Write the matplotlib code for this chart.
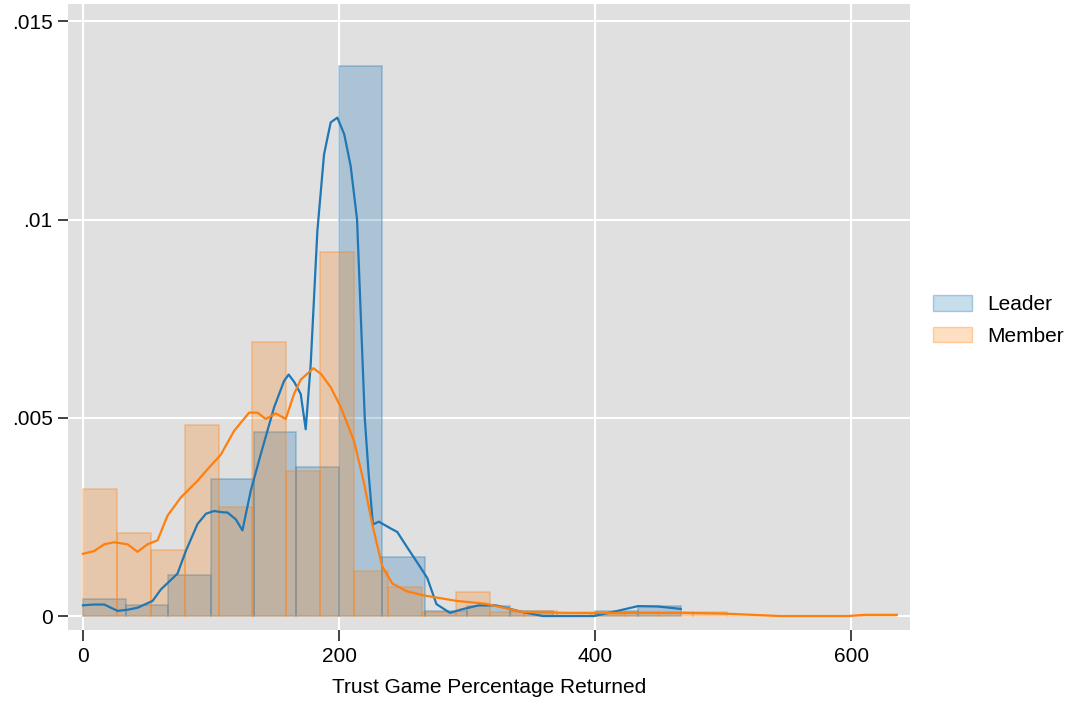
import numpy as np
import matplotlib
matplotlib.use("Agg")
import matplotlib.pyplot as plt
from matplotlib.patches import Patch

plt.rcParams['font.family'] = ['Liberation Sans', 'DejaVu Sans']

# histogram bins (left edges start at 0)
leader_bin_w = 466.7 / 14
leader_hist = [0.00042, 0.00027, 0.00103, 0.00345, 0.00465, 0.00375, 0.01387,
               0.00149, 0.00012, 0.00025, 0.00013, 0.0, 0.00013, 0.00025]

member_bin_w = 635.0 / 24
member_hist = [0.0032, 0.0021, 0.00166, 0.00482, 0.00275, 0.0069, 0.00366,
               0.00919, 0.00113, 0.00074, 0.00009, 0.00061, 0.00009, 0.00012,
               0.00008, 0.00005, 0.0001, 0.0001, 0.0001, 0.0, 0.0, 0.0, 0.0,
               0.00003]

# kernel density curves
leader_kde_x = [0, 8, 16.6, 27, 35, 42.6, 54.3, 60.8, 73.8, 80.3, 89.4, 96,
                102.4, 108, 112.8, 119.3, 124.5, 131, 138.8, 149.2, 157,
                160.6, 165, 170, 173.9, 177.8, 183, 188.2, 193.4, 198.6, 204,
                209, 214, 220, 223, 226.4, 231, 240.2, 245.4, 253.2, 261,
                268.8, 276, 286.6, 295.9, 309, 322.3, 343.4, 359.2, 398.9,
                417.4, 433.2, 449.1, 466.7]
leader_kde_y = [.00027, .00029, .00029, .00013, .00016, .00021, .00038,
                .00067, .00107, .00164, .00232, .00258, .00265, .00262,
                .00261, .00244, .00216, .00316, .00408, .00526, .00593,
                .00609, .0059, .0056, .00471, .00635, .00971, .01164, .01245,
                .01257, .01215, .01135, .0100, .0050, .0036, .00231, .00238,
                .00221, .00212, .00173, .00135, .00096, .0003, .00008,
                .00017, .00027, .00027, .0001, .0, .0, .00013, .00025,
                .00024, .00018]

member_kde_x = [0, 8.8, 16.6, 24.4, 34.8, 42.6, 50.4, 58.2, 66, 76.4, 89.4,
                97.2, 107.6, 118, 129.7, 136.2, 142.7, 150.5, 158.3, 164.8,
                170, 179.9, 186, 193.4, 201, 211.6, 219.3, 225.9, 233.7,
                241.5, 253.2, 266.1, 292.1, 314.3, 343.4, 380.4, 417.4,
                470.2, 502, 544.3, 597.1, 610.3, 635.4]
member_kde_y = [.00157, .00164, .00181, .00186, .00181, .00162, .00181,
                .00191, .00253, .00299, .00341, .0037, .00407, .00467,
                .00513, .00513, .00497, .00511, .00497, .0056, .00596,
                .00625, .0061, .00577, .00529, .00442, .00337, .00231,
                .00125, .00082, .00062, .00052, .00038, .00031, .0001,
                .00008, .00008, .00008, .00006, .0, .0, .00003, .00003]

x_ticks = [0, 200, 400, 600]
y_ticks = [0, 0.005, 0.01, 0.015]
y_labels = ['0', '.005', '.01', '.015']

blue = '#1f77b4'
orange = '#ff7f0e'

fig = plt.figure(figsize=(10.71, 7.04), dpi=100)
ax = fig.add_axes([0.0635, 0.105, 0.786, 0.889])
ax.set_facecolor('#e0e0e0')

lx = np.arange(len(leader_hist)) * leader_bin_w
mx = np.arange(len(member_hist)) * member_bin_w
ax.bar(lx, leader_hist, width=leader_bin_w, align='edge',
       color=(0.12, 0.47, 0.71, 0.27), edgecolor=(0.12, 0.47, 0.71, 0.35),
       linewidth=1.2, zorder=2)
ax.bar(mx, member_hist, width=member_bin_w, align='edge',
       color=(1.0, 0.5, 0.05, 0.25), edgecolor=(1.0, 0.5, 0.05, 0.35),
       linewidth=1.2, zorder=2)

ax.plot(leader_kde_x, leader_kde_y, color=blue, lw=1.6, zorder=3)
ax.plot(member_kde_x, member_kde_y, color=orange, lw=1.6, zorder=3)

ax.set_xlim(-11.7, 645.6)
ax.set_ylim(-0.000354, 0.01543)
ax.set_xticks(x_ticks)
ax.set_yticks(y_ticks)
ax.set_yticklabels(y_labels)
ax.grid(True, color='white', lw=1.5, zorder=1)
ax.set_axisbelow(True)
for s in ax.spines.values():
    s.set_visible(False)
ax.tick_params(direction='out', width=1.3, color='#333333', labelsize=15)
ax.tick_params(axis='x', length=8, pad=4)
ax.tick_params(axis='y', length=7, pad=4)
ax.set_xlabel('Trust Game Percentage Returned', fontsize=15, labelpad=9)

handles = [Patch(facecolor=(0.12, 0.47, 0.71, 0.25), edgecolor=(0.12, 0.47, 0.71, 0.35), label='Leader'),
           Patch(facecolor=(1.0, 0.5, 0.05, 0.25), edgecolor=(1.0, 0.5, 0.05, 0.35), label='Member')]
ax.legend(handles=handles, loc='center left', bbox_to_anchor=(1.028, 0.495),
          frameon=False, fontsize=15, handlelength=1.83, handleheight=0.8,
          handletextpad=0.75, labelspacing=0.6, borderpad=0,
          borderaxespad=0)

fig.savefig('out.png', dpi=100)
